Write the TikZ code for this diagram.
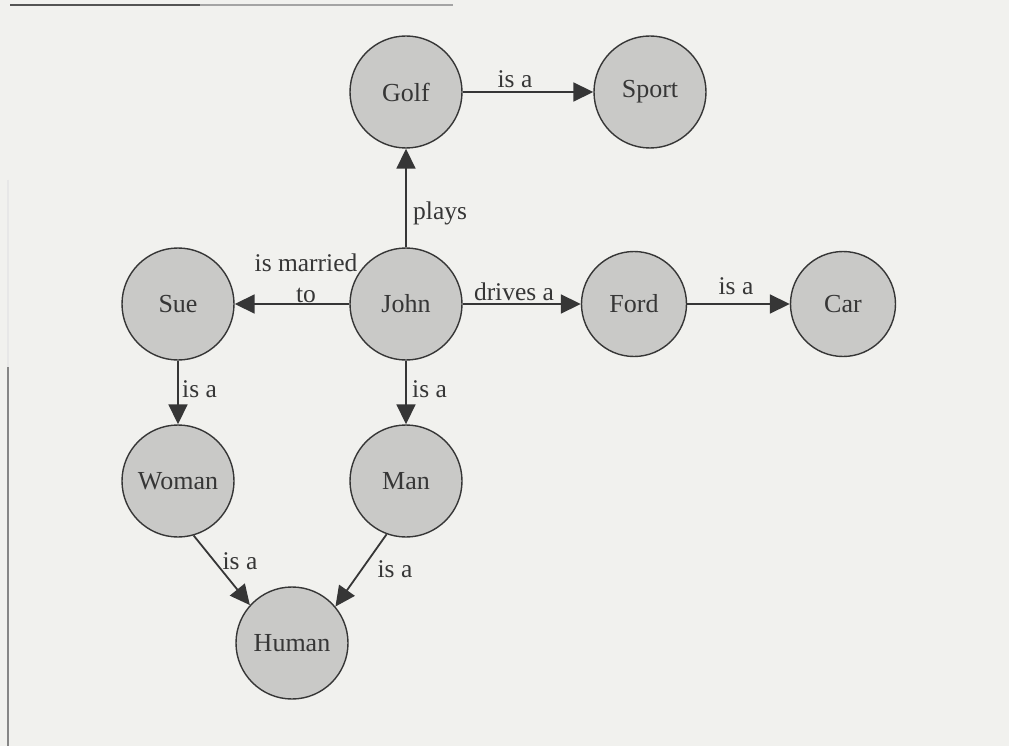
\documentclass[tikz,border=0pt]{standalone}
\usepackage{fontspec}
\setmainfont{Liberation Serif}
\usetikzlibrary{arrows.meta}
\definecolor{paper}{HTML}{F1F1EE}
\definecolor{disc}{HTML}{C9C9C7}
\definecolor{ink}{HTML}{363636}
\begin{document}
\begin{tikzpicture}[x=1pt,y=-1pt,
  concept/.style={circle,fill=disc,draw=ink,line width=1.4pt,minimum size=112pt,
    inner sep=0pt,font=\fontsize{26}{30}\selectfont,text=ink},
  small concept/.style={concept,minimum size=105pt},
  rel/.style={draw=ink,line width=1.8pt,-{Triangle[length=20pt,width=19pt]}},
  lbl/.style={font=\fontsize{25.5}{31}\selectfont,text=ink,inner sep=0pt}]
% page and frame rules
\fill[paper] (0,0) rectangle (1009,746);
\useasboundingbox (0,0) rectangle (1009,746);
\draw[ink!85,line width=1.5pt] (10,5) -- (200,5);
\draw[ink!45,line width=1.5pt] (200,5) -- (453,5);
\draw[ink!12,line width=1.5pt] (8,180) -- (8,367);
\draw[ink!60,line width=1.5pt] (8,367) -- (8,746);

% concepts
\node[concept] (golf)  at (406,92)  {Golf};
\node[concept] (sport) at (650,92)  {Sport};
\node[concept] (sue)   at (178,304) {Sue};
\node[concept] (john)  at (406,304) {John};
\node[small concept] (ford) at (634,304) {Ford};
\node[small concept] (car)  at (843,304) {Car};
\node[concept] (woman) at (178,481) {Woman};
\node[concept] (man)   at (406,481) {Man};
\node[concept] (human) at (292,643) {Human};

% relations
\draw[rel] (golf) -- (sport);
\draw[rel] (john) -- (golf);
\draw[rel] (john) -- (sue);
\draw[rel] (john) -- (ford);
\draw[rel] (ford) -- (car);
\draw[rel] (sue) -- (woman);
\draw[rel] (john) -- (man);
\draw[rel] (woman.-74) -- (human.138);
\draw[rel] (man.-110) -- (human.40);

% relation labels
\node[lbl] (lgs) at (515,79) {is a};
\node[lbl] (lfc) at (736,286) {is a};
\node[lbl] (ljf) at (514,292) {drives a};
\node[lbl,align=center] (ljs) at (306,278) {is married\\to};
\node[lbl,anchor=west] (ljg) at (413,213) {plays};
\node[lbl,anchor=west] (lsw) at (182,389) {is a};
\node[lbl,anchor=west] (ljm) at (412,389) {is a};
\node[lbl] (lwh) at (240,561) {is a};
\node[lbl] (lmh) at (395,569) {is a};
\end{tikzpicture}
\end{document}
